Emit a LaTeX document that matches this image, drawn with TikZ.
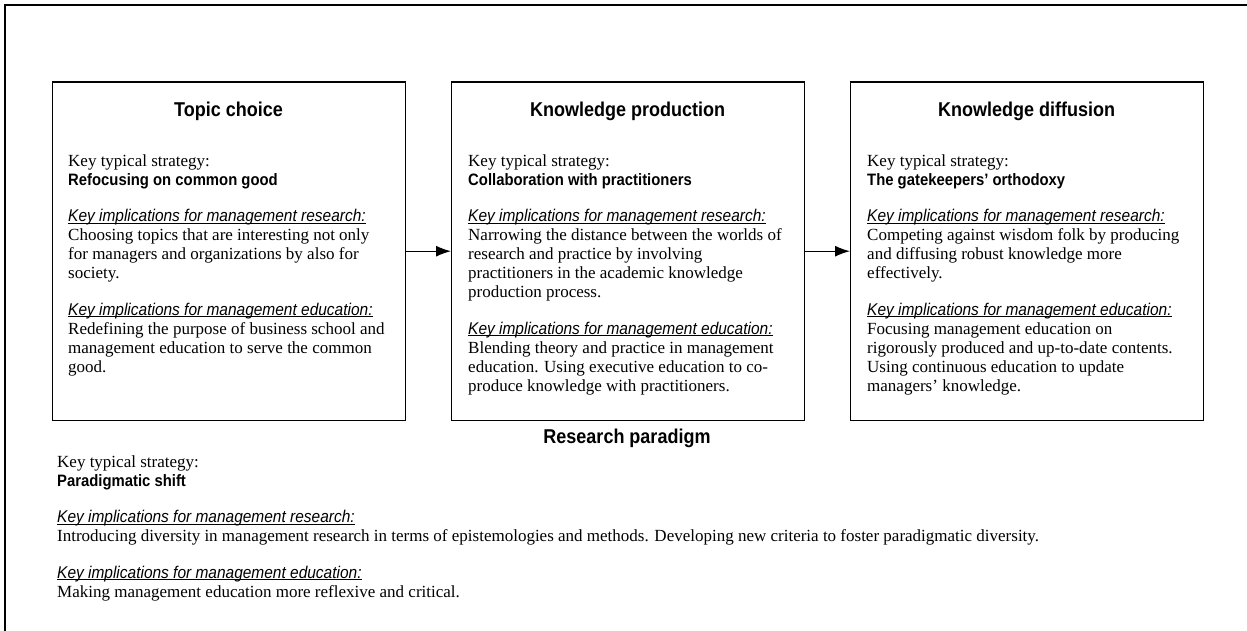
\documentclass[tikz,border=0pt]{standalone}
\usepackage{fontspec}
\setmainfont{Liberation Serif}
\newfontfamily\titlef[FakeStretch=0.9]{Liberation Sans}
\newfontfamily\kif[FakeStretch=0.91]{Liberation Sans}
\usetikzlibrary{arrows.meta}
\newsavebox{\kibox}
\newcommand{\mytitlefont}{\titlef\bfseries\fontsize{20}{22}\selectfont}
\newcommand{\stratxt}[1]{{\titlef\bfseries\fontsize{16.5}{19}\selectfont #1}}
\newcommand{\kimpl}[1]{\sbox{\kibox}{\kif\itshape\fontsize{17}{19}\selectfont #1}\usebox{\kibox}\hspace{-\wd\kibox}\rule[-1.8pt]{\wd\kibox}{0.8pt}}
\begin{document}
\begin{tikzpicture}[x=1pt,y=-1pt,
  box/.style={draw, line width=1.4pt, minimum width=353pt, minimum height=338pt, inner sep=0pt, anchor=north west},
  body/.style={anchor=north west, inner sep=0pt, align=left, font=\fontsize{17}{19}\selectfont},
  ttlnode/.style={anchor=base, inner sep=0pt, font=\mytitlefont},
  conn/.style={line width=1.2pt, -{Latex[length=15pt,width=11pt]}}]
\useasboundingbox (0,0) rectangle (1247,631);
% outer frame (only top and left edges visible)
\draw[line width=1.5pt] (5,631) -- (5,5) -- (1247,5);
% boxes
\node[box] (b1) at (52,81.5) {};
\node[box] (b2) at (451,81.5) {};
\node[box] (b3) at (850,81.5) {};
% titles
\node[ttlnode] (h1) at (228.5,117) {Topic choice};
\node[ttlnode] (h2) at (627.5,117) {Knowledge production};
\node[ttlnode] (h3) at (1026.5,117) {Knowledge diffusion};
% box texts
\node[body] (t1) at (68,154.4) {Key typical strategy:\\
\stratxt{Refocusing on common good}\\[17.5pt]
\kimpl{Key implications for management research:}\\
Choosing topics that are interesting not only\\
for managers and organizations by also for\\
society.\\[17.5pt]
\kimpl{Key implications for management education:}\\
Redefining the purpose of business school and\\
management education to serve the common\\
good.};
\node[body] (t2) at (468,154.4) {Key typical strategy:\\
\stratxt{Collaboration with practitioners}\\[17.5pt]
\kimpl{Key implications for management research:}\\
Narrowing the distance between the worlds of\\
research and practice by involving\\
practitioners in the academic knowledge\\
production process.\\[17.5pt]
\kimpl{Key implications for management education:}\\
Blending theory and practice in management\\
education. Using executive education to co-\\
produce knowledge with practitioners.};
\node[body] (t3) at (867,154.4) {Key typical strategy:\\
\stratxt{The gatekeepers’ orthodoxy}\\[17.5pt]
\kimpl{Key implications for management research:}\\
Competing against wisdom folk by producing\\
and diffusing robust knowledge more\\
effectively.\\[17.5pt]
\kimpl{Key implications for management education:}\\
Focusing management education on\\
rigorously produced and up-to-date contents.\\
Using continuous education to update\\
managers’ knowledge.};
% connectors
\draw[conn] (b1.east) -- (b2.west);
\draw[conn] (b2.east) -- (b3.west);
% research paradigm
\node[ttlnode] (h4) at (627,443) {Research paradigm};
\node[body] (t4) at (57,455.4) {Key typical strategy:\\
\stratxt{Paradigmatic shift}\\[17.5pt]
\kimpl{Key implications for management research:}\\
Introducing diversity in management research in terms of epistemologies and methods. Developing new criteria to foster paradigmatic diversity.\\[17.5pt]
\kimpl{Key implications for management education:}\\
Making management education more reflexive and critical.};
\end{tikzpicture}
\end{document}
